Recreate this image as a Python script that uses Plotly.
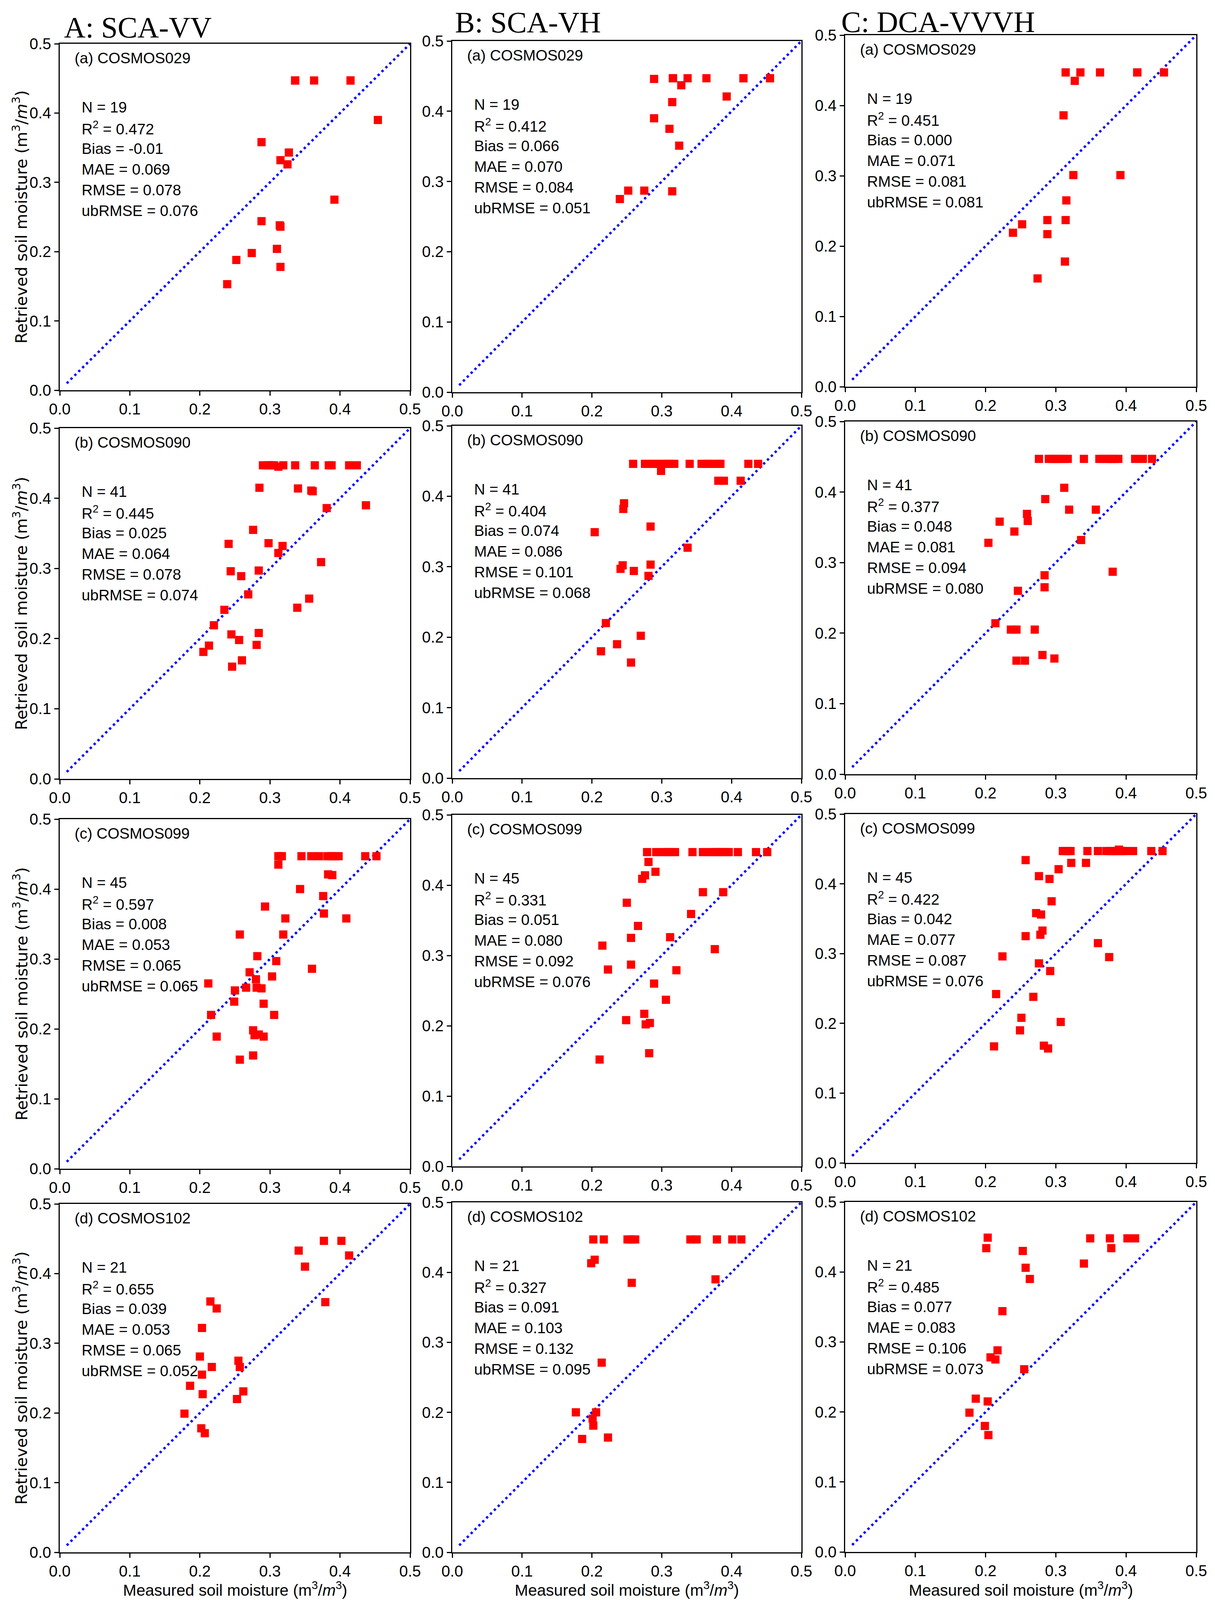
import plotly.graph_objects as go
from plotly.subplots import make_subplots

W, H = 3111, 4122

# ---------------- data (measured x, retrieved y) ----------------
# Column A: SCA-VV
sca_vv_029_meas = [0.336, 0.363, 0.415, 0.415, 0.454, 0.288, 0.327, 0.315, 0.325, 0.392, 0.288, 0.314, 0.315, 0.310, 0.274, 0.252, 0.315, 0.239, 0.336]
sca_vv_029_retr = [0.447, 0.447, 0.447, 0.447, 0.390, 0.358, 0.343, 0.332, 0.326, 0.275, 0.244, 0.238, 0.236, 0.204, 0.198, 0.188, 0.178, 0.153, 0.447]

sca_vv_090_meas = [0.290, 0.296, 0.300, 0.302, 0.306, 0.312, 0.319, 0.336, 0.364, 0.384, 0.388, 0.413, 0.424,
                   0.285, 0.340, 0.359, 0.361, 0.381, 0.437, 0.276, 0.241, 0.298, 0.318, 0.312, 0.373, 0.244, 0.259, 0.284,
                   0.269, 0.356, 0.339, 0.235, 0.220, 0.245, 0.256, 0.284, 0.281, 0.213, 0.205, 0.260, 0.246]
sca_vv_090_retr = [0.447, 0.447, 0.447, 0.447, 0.447, 0.445, 0.447, 0.447, 0.447, 0.447, 0.447, 0.447, 0.447,
                   0.415, 0.414, 0.411, 0.410, 0.386, 0.390, 0.355, 0.335, 0.336, 0.332, 0.322, 0.309, 0.296, 0.289, 0.297,
                   0.263, 0.257, 0.244, 0.241, 0.219, 0.206, 0.198, 0.208, 0.191, 0.190, 0.181, 0.169, 0.160]

sca_vv_099_meas = [0.312, 0.317, 0.345, 0.359, 0.370, 0.382, 0.393, 0.398, 0.436, 0.452, 0.315, 0.388,
                   0.312, 0.383, 0.389, 0.343, 0.376, 0.293, 0.377, 0.322, 0.409, 0.257, 0.319, 0.282, 0.309, 0.360,
                   0.271, 0.280, 0.303, 0.212, 0.266, 0.281, 0.288, 0.250, 0.249, 0.291, 0.306, 0.216, 0.276, 0.278,
                   0.284, 0.291, 0.224, 0.276, 0.257]
sca_vv_099_retr = [0.447, 0.447, 0.447, 0.447, 0.447, 0.447, 0.447, 0.447, 0.447, 0.447, 0.447, 0.447,
                   0.435, 0.421, 0.420, 0.400, 0.390, 0.375, 0.365, 0.358, 0.358, 0.335, 0.335, 0.304, 0.297, 0.286,
                   0.281, 0.271, 0.275, 0.265, 0.259, 0.259, 0.258, 0.255, 0.239, 0.236, 0.220, 0.220, 0.198, 0.191,
                   0.192, 0.189, 0.189, 0.162, 0.156]

sca_vv_102_meas = [0.377, 0.402, 0.341, 0.413, 0.350, 0.379, 0.215, 0.224, 0.203, 0.200, 0.217, 0.255, 0.257, 0.203, 0.186, 0.204, 0.262, 0.253, 0.178, 0.202, 0.207]
sca_vv_102_retr = [0.447, 0.447, 0.433, 0.426, 0.410, 0.359, 0.360, 0.350, 0.322, 0.281, 0.266, 0.275, 0.266, 0.255, 0.239, 0.227, 0.231, 0.220, 0.199, 0.178, 0.171]

# Column B: SCA-VH
sca_vh_029_meas = [0.289, 0.316, 0.337, 0.328, 0.364, 0.417, 0.455, 0.393, 0.315, 0.289, 0.311, 0.325, 0.240, 0.252, 0.275, 0.315, 0.316, 0.417, 0.455]
sca_vh_029_retr = [0.446, 0.447, 0.447, 0.437, 0.447, 0.447, 0.447, 0.421, 0.413, 0.390, 0.375, 0.351, 0.275, 0.287, 0.287, 0.286, 0.447, 0.447, 0.447]

sca_vh_090_meas = [0.259, 0.276, 0.281, 0.286, 0.292, 0.297, 0.302, 0.308, 0.313, 0.318, 0.340, 0.357, 0.363, 0.368, 0.373,
                   0.379, 0.384, 0.424, 0.438, 0.310, 0.365, 0.381,
                   0.299, 0.381, 0.389, 0.413,
                   0.246, 0.245, 0.204, 0.284, 0.337, 0.244, 0.241, 0.260, 0.284, 0.281, 0.220, 0.270, 0.236, 0.213, 0.256]
sca_vh_090_retr = [0.446, 0.446, 0.446, 0.446, 0.446, 0.446, 0.446, 0.446, 0.446, 0.446, 0.446, 0.446, 0.446, 0.446, 0.446,
                   0.446, 0.446, 0.446, 0.446, 0.446, 0.446, 0.446,
                   0.436, 0.422, 0.422, 0.422,
                   0.390, 0.382, 0.349, 0.357, 0.327, 0.302, 0.297, 0.294, 0.303, 0.287, 0.220, 0.202, 0.190, 0.180, 0.164]

sca_vh_099_meas = [0.279, 0.292, 0.303, 0.308, 0.313, 0.319, 0.344, 0.359, 0.370, 0.375, 0.381, 0.386, 0.391, 0.396, 0.409,
                   0.435, 0.451, 0.310, 0.383, 0.393, 0.378,
                   0.281, 0.291, 0.276, 0.272, 0.359, 0.388, 0.250, 0.342, 0.266, 0.256, 0.312, 0.215, 0.376, 0.256,
                   0.223, 0.321, 0.289, 0.306, 0.275, 0.249, 0.277, 0.283, 0.282, 0.211]
sca_vh_099_retr = [0.447, 0.447, 0.447, 0.447, 0.447, 0.447, 0.447, 0.447, 0.447, 0.447, 0.447, 0.447, 0.447, 0.447, 0.447,
                   0.447, 0.447, 0.447, 0.447, 0.447, 0.447,
                   0.433, 0.419, 0.414, 0.409, 0.390, 0.390, 0.375, 0.359, 0.342, 0.325, 0.326, 0.314, 0.309, 0.287,
                   0.280, 0.279, 0.260, 0.237, 0.217, 0.208, 0.202, 0.204, 0.161, 0.152]

sca_vh_102_meas = [0.202, 0.217, 0.251, 0.256, 0.262, 0.341, 0.350, 0.379, 0.401, 0.414, 0.199, 0.204, 0.257, 0.377, 0.214, 0.177, 0.206, 0.201, 0.202, 0.186, 0.223]
sca_vh_102_retr = [0.447, 0.447, 0.447, 0.447, 0.447, 0.447, 0.447, 0.447, 0.447, 0.447, 0.413, 0.418, 0.385, 0.390, 0.271, 0.200, 0.200, 0.191, 0.181, 0.162, 0.164]

# Column C: DCA-VVVH
dca_029_meas = [0.314, 0.335, 0.327, 0.363, 0.416, 0.454, 0.311, 0.325, 0.392, 0.315, 0.288, 0.314, 0.252, 0.239, 0.288, 0.313, 0.274, 0.416, 0.314]
dca_029_retr = [0.447, 0.447, 0.435, 0.447, 0.447, 0.447, 0.386, 0.301, 0.301, 0.265, 0.237, 0.237, 0.231, 0.219, 0.217, 0.178, 0.154, 0.447, 0.447]

dca_090_meas = [0.276, 0.290, 0.295, 0.301, 0.306, 0.312, 0.317, 0.340, 0.362, 0.367, 0.373, 0.378, 0.384, 0.389, 0.413,
                0.424, 0.437, 0.300, 0.380,
                0.312, 0.285, 0.319, 0.357, 0.259, 0.260, 0.220, 0.241, 0.204, 0.336, 0.381, 0.284, 0.284, 0.246,
                0.214, 0.236, 0.244, 0.270, 0.281, 0.298, 0.244, 0.256]
dca_090_retr = [0.447, 0.447, 0.447, 0.447, 0.447, 0.447, 0.447, 0.447, 0.447, 0.447, 0.447, 0.447, 0.447, 0.447, 0.447,
                0.447, 0.447, 0.447, 0.447,
                0.406, 0.390, 0.375, 0.375, 0.369, 0.359, 0.358, 0.344, 0.328, 0.332, 0.287, 0.282, 0.265, 0.260,
                0.214, 0.205, 0.205, 0.205, 0.169, 0.164, 0.161, 0.161]

dca_099_meas = [0.310, 0.316, 0.321, 0.345, 0.360, 0.372, 0.377, 0.383, 0.388, 0.390, 0.393, 0.399, 0.410, 0.436, 0.452,
                0.313, 0.380, 0.385, 0.396, 0.318,
                0.257, 0.322, 0.343, 0.304, 0.276, 0.291, 0.294, 0.272, 0.279, 0.281, 0.278, 0.257, 0.360, 0.224,
                0.376, 0.276, 0.292, 0.215, 0.268, 0.251, 0.307, 0.249, 0.212, 0.283, 0.289]
dca_099_retr = [0.447, 0.447, 0.447, 0.447, 0.447, 0.447, 0.447, 0.447, 0.447, 0.449, 0.447, 0.447, 0.447, 0.447, 0.447,
                0.447, 0.447, 0.447, 0.447, 0.447,
                0.434, 0.430, 0.430, 0.421, 0.411, 0.407, 0.375, 0.358, 0.356, 0.333, 0.327, 0.325, 0.315, 0.296,
                0.295, 0.286, 0.275, 0.242, 0.238, 0.208, 0.202, 0.190, 0.167, 0.168, 0.164]

dca_102_meas = [0.203, 0.201, 0.253, 0.257, 0.263, 0.349, 0.377, 0.379, 0.402, 0.413, 0.340, 0.224, 0.217, 0.207, 0.214, 0.255, 0.186, 0.203, 0.177, 0.199, 0.204]
dca_102_retr = [0.449, 0.434, 0.430, 0.406, 0.390, 0.448, 0.448, 0.434, 0.448, 0.448, 0.412, 0.344, 0.288, 0.278, 0.275, 0.261, 0.219, 0.215, 0.199, 0.180, 0.167]

# 1:1 reference line
one_to_one = [0.01, 0.5]

# text
column_titles = ["A: SCA-VV", "B: SCA-VH", "C: DCA-VVVH"]
site_labels = ["(a) COSMOS029", "(b) COSMOS090", "(c) COSMOS099", "(d) COSMOS102"]
site_n = [19, 41, 45, 21]
r2_vals = [[0.472, 0.445, 0.597, 0.655], [0.412, 0.404, 0.331, 0.327], [0.451, 0.377, 0.422, 0.485]]
bias_vals = [["-0.01", "0.025", "0.008", "0.039"], ["0.066", "0.074", "0.051", "0.091"], ["0.000", "0.048", "0.042", "0.077"]]
mae_vals = [[0.069, 0.064, 0.053, 0.053], [0.070, 0.086, 0.080, 0.103], [0.071, 0.081, 0.077, 0.083]]
rmse_vals = [[0.078, 0.078, 0.065, 0.065], [0.084, 0.101, 0.092, 0.132], [0.081, 0.094, 0.087, 0.106]]
ubrmse_vals = [[0.076, 0.074, 0.065, 0.052], [0.051, 0.068, 0.076, 0.095], [0.081, 0.080, 0.076, 0.073]]
tick_vals = [0.0, 0.1, 0.2, 0.3, 0.4, 0.5]
tick_text = ["0.0", "0.1", "0.2", "0.3", "0.4", "0.5"]
y_title = "Retrieved soil moisture (m<sup>3</sup>/<i>m</i><sup>3</sup>)"
x_title = "Measured soil moisture (m<sup>3</sup>/<i>m</i><sup>3</sup>)"

data = [
    [(sca_vv_029_meas, sca_vv_029_retr), (sca_vv_090_meas, sca_vv_090_retr), (sca_vv_099_meas, sca_vv_099_retr), (sca_vv_102_meas, sca_vv_102_retr)],
    [(sca_vh_029_meas, sca_vh_029_retr), (sca_vh_090_meas, sca_vh_090_retr), (sca_vh_099_meas, sca_vh_099_retr), (sca_vh_102_meas, sca_vh_102_retr)],
    [(dca_029_meas, dca_029_retr), (dca_090_meas, dca_090_retr), (dca_099_meas, dca_099_retr), (dca_102_meas, dca_102_retr)],
]

# ---------------- layout geometry (pixels, page coords; body margin compensated) ----------------
OFF = 8
col_x = [(153, 1050), (1158, 2052), (2164, 3063)]
row_y = [
    [(112, 999), (1096, 1994), (2097, 2992), (3082, 3974)],
    [(105, 1004), (1090, 1992), (2086, 2986), (3078, 3974)],
    [(90, 990), (1079, 1982), (2084, 2977), (3077, 3973)],
]
title_pos = [(162, 70), (1163, 57), (2152, 56)]


def px_x(v):
    return (v - OFF) / W


def px_y(v):
    return 1 - (v - OFF) / H


SANS = "Liberation Sans, Arial, sans-serif"
SERIF = "Liberation Serif, DejaVu Serif, serif"

fig = make_subplots(rows=4, cols=3)

annotations = []
for c in range(3):
    for r in range(4):
        n = r * 3 + c + 1
        xs, ys = data[c][r]
        fig.add_trace(go.Scatter(x=one_to_one, y=one_to_one, mode="lines",
                                 line=dict(color="#0000ff", width=6, dash="6px,8px"),
                                 showlegend=False, hoverinfo="skip"), row=r + 1, col=c + 1)
        fig.add_trace(go.Scatter(x=xs, y=ys, mode="markers",
                                 marker=dict(symbol="square", size=21, color="#ff0000",
                                             line=dict(width=0)),
                                 showlegend=False), row=r + 1, col=c + 1)
        x0, x1 = col_x[c]
        y0, y1 = row_y[c][r]
        xa = "xaxis" if n == 1 else f"xaxis{n}"
        ya = "yaxis" if n == 1 else f"yaxis{n}"
        axis_common = dict(range=[0, 0.5], tickvals=tick_vals, ticktext=tick_text,
                           showline=True, linecolor="black", linewidth=3, mirror=True,
                           ticks="outside", ticklen=11, tickwidth=3, tickcolor="black",
                           showgrid=False, zeroline=False, automargin=False,
                           tickfont=dict(family=SANS, size=40, color="black"))
        fig.layout[xa].update(domain=[px_x(x0), px_x(x1)], **axis_common)
        fig.layout[ya].update(domain=[px_y(y1), px_y(y0)], **axis_common)

        xref = "x domain" if n == 1 else f"x{n} domain"
        yref = "y domain" if n == 1 else f"y{n} domain"
        ph = y1 - y0
        pw = x1 - x0
        annotations.append(dict(text=site_labels[r], xref=xref, yref=yref,
                                x=36 / pw, y=1 - 36 / ph, xanchor="left", yanchor="middle",
                                showarrow=False, font=dict(family=SANS, size=39, color="black")))
        lines = [f"N = {site_n[r]}",
                 f"R<sup>2</sup> = {r2_vals[c][r]:.3f}",
                 f"Bias = {bias_vals[c][r]}",
                 f"MAE = {mae_vals[c][r]:.3f}",
                 f"RMSE = {rmse_vals[c][r]:.3f}",
                 f"ubRMSE = {ubrmse_vals[c][r]:.3f}"]
        for k, t in enumerate(lines):
            annotations.append(dict(text=t, xref=xref, yref=yref,
                                    x=54 / pw, y=1 - (162 + 53 * k) / ph,
                                    xanchor="left", yanchor="middle", showarrow=False,
                                    font=dict(family=SANS, size=39, color="black")))

# column titles
for c in range(3):
    px, py = title_pos[c]
    annotations.append(dict(text=column_titles[c], xref="paper", yref="paper",
                            x=px_x(px), y=px_y(py), xanchor="left", yanchor="middle",
                            showarrow=False, font=dict(family=SERIF, size=76, color="black")))

# y axis titles (column A)
for r in range(4):
    y0, y1 = row_y[0][r]
    annotations.append(dict(text=y_title, xref="paper", yref="paper",
                            x=px_x(52), y=px_y((y0 + y1) / 2), xanchor="center", yanchor="middle",
                            textangle=-90, showarrow=False,
                            font=dict(family="DejaVu Sans, sans-serif", size=41, color="black")))

# x axis titles (bottom row)
for c in range(3):
    x0, x1 = col_x[c]
    annotations.append(dict(text=x_title, xref="paper", yref="paper",
                            x=px_x((x0 + x1) / 2), y=px_y(4068), xanchor="center", yanchor="middle",
                            showarrow=False, font=dict(family=SANS, size=41, color="black")))

fig.update_layout(template="none", width=W, height=H, margin=dict(l=0, r=0, t=0, b=0, pad=0),
                  paper_bgcolor="white", plot_bgcolor="white",
                  annotations=annotations, showlegend=False)

fig.write_html("out.html")
